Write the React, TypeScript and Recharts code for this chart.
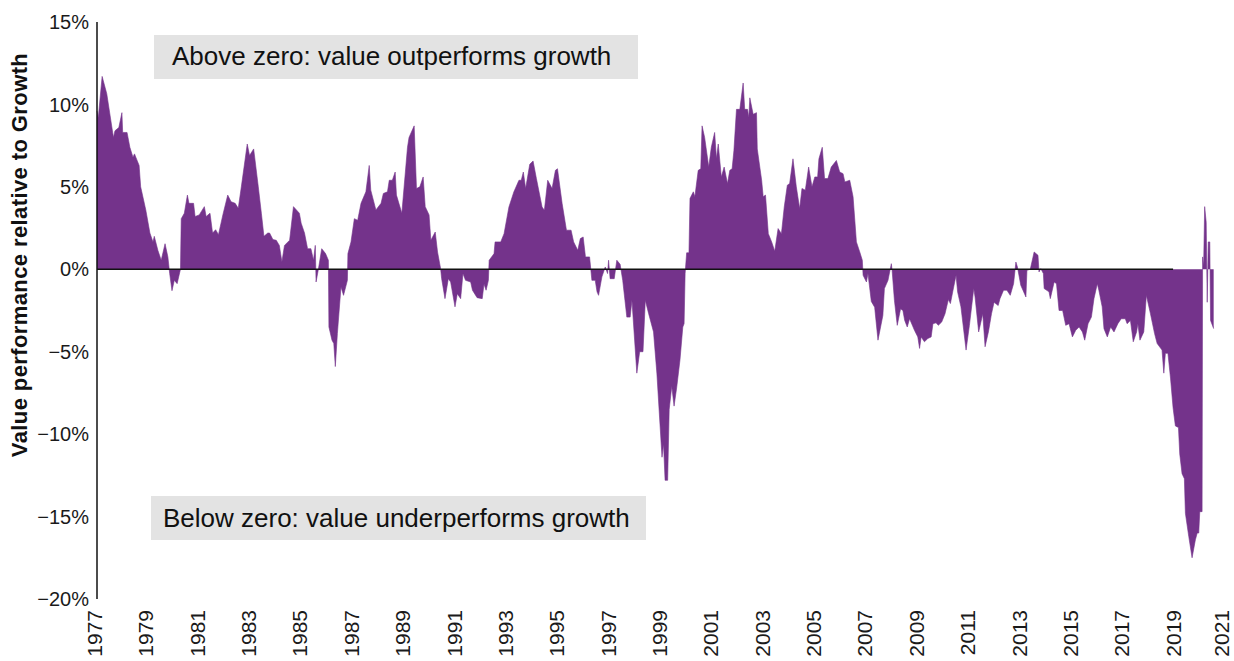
import React from 'react';
import { AreaChart, Area, XAxis, YAxis, ReferenceLine } from 'recharts';

const years: number[] = [
  1977.00, 1977.05, 1977.20, 1977.38, 1977.64, 1977.70, 1977.85, 1977.97, 1978.00, 1978.17,
  1978.28, 1978.40, 1978.46, 1978.64, 1978.70, 1978.90, 1979.06, 1979.18, 1979.23, 1979.37,
  1979.50, 1979.65, 1979.76, 1979.83, 1979.92, 1980.01, 1980.12, 1980.25, 1980.28, 1980.40,
  1980.52, 1980.58, 1980.76, 1980.82, 1980.98, 1981.18, 1981.25, 1981.40, 1981.50, 1981.62,
  1981.73, 1981.90, 1982.09, 1982.22, 1982.38, 1982.50, 1982.62, 1982.85, 1982.94, 1983.10,
  1983.28, 1983.40, 1983.50, 1983.65, 1983.72, 1983.85, 1983.98, 1984.10, 1984.20, 1984.30,
  1984.50, 1984.65, 1984.88, 1984.95, 1985.08, 1985.20, 1985.33, 1985.43, 1985.50, 1985.53,
  1985.62, 1985.75, 1985.90, 1986.01, 1986.03, 1986.15, 1986.22, 1986.28, 1986.36, 1986.50,
  1986.60, 1986.75, 1986.77, 1986.89, 1987.02, 1987.15, 1987.28, 1987.47, 1987.60, 1987.66,
  1987.86, 1988.06, 1988.15, 1988.31, 1988.38, 1988.50, 1988.61, 1988.66, 1988.87, 1989.09,
  1989.15, 1989.35, 1989.44, 1989.57, 1989.70, 1989.78, 1989.93, 1990.00, 1990.17, 1990.26,
  1990.38, 1990.42, 1990.55, 1990.68, 1990.77, 1990.94, 1991.03, 1991.16, 1991.25, 1991.35,
  1991.55, 1991.62, 1991.80, 1992.00, 1992.07, 1992.15, 1992.24, 1992.27, 1992.46, 1992.50,
  1992.72, 1992.85, 1993.04, 1993.23, 1993.43, 1993.52, 1993.60, 1993.69, 1993.85, 1993.98,
  1994.11, 1994.33, 1994.42, 1994.55, 1994.72, 1994.85, 1994.93, 1995.11, 1995.28, 1995.46,
  1995.56, 1995.72, 1995.82, 1995.93, 1996.02, 1996.18, 1996.27, 1996.40, 1996.47, 1996.53,
  1996.66, 1996.79, 1996.88, 1996.92, 1996.98, 1997.14, 1997.24, 1997.37, 1997.47, 1997.63,
  1997.76, 1997.83, 1998.02, 1998.13, 1998.26, 1998.35, 1998.48, 1998.67, 1998.80, 1999.00,
  1999.06, 1999.12, 1999.22, 1999.28, 1999.38, 1999.47, 1999.57, 1999.70, 1999.81, 1999.86,
  1999.90, 1999.96, 2000.05, 2000.09, 2000.22, 2000.28, 2000.41, 2000.51, 2000.56, 2000.66,
  2000.82, 2000.92, 2001.05, 2001.12, 2001.19, 2001.31, 2001.42, 2001.55, 2001.64, 2001.73,
  2001.80, 2001.90, 2002.03, 2002.16, 2002.22, 2002.33, 2002.38, 2002.42, 2002.55, 2002.68,
  2002.71, 2002.88, 2002.94, 2003.03, 2003.14, 2003.27, 2003.39, 2003.52, 2003.65, 2003.76,
  2003.88, 2003.97, 2004.10, 2004.23, 2004.36, 2004.45, 2004.58, 2004.71, 2004.84, 2004.95,
  2005.06, 2005.11, 2005.24, 2005.33, 2005.46, 2005.59, 2005.79, 2005.92, 2006.05, 2006.12,
  2006.31, 2006.44, 2006.57, 2006.70, 2006.80, 2006.83, 2006.96, 2007.02, 2007.15, 2007.28,
  2007.41, 2007.60, 2007.66, 2007.80, 2007.93, 2007.96, 2008.05, 2008.16, 2008.29, 2008.38,
  2008.45, 2008.55, 2008.64, 2008.83, 2008.96, 2009.03, 2009.09, 2009.22, 2009.35, 2009.48,
  2009.55, 2009.67, 2009.76, 2009.89, 2010.02, 2010.15, 2010.23, 2010.32, 2010.45, 2010.51,
  2010.64, 2010.84, 2010.97, 2011.14, 2011.19, 2011.33, 2011.49, 2011.58, 2011.71, 2011.83,
  2011.93, 2012.09, 2012.16, 2012.30, 2012.43, 2012.56, 2012.69, 2012.78, 2012.84, 2012.97,
  2013.17, 2013.21, 2013.34, 2013.49, 2013.64, 2013.68, 2013.75, 2013.85, 2013.88, 2014.07,
  2014.12, 2014.27, 2014.36, 2014.46, 2014.60, 2014.72, 2014.85, 2014.98, 2015.11, 2015.24,
  2015.37, 2015.46, 2015.59, 2015.72, 2015.82, 2015.95, 2016.01, 2016.14, 2016.21, 2016.34,
  2016.47, 2016.60, 2016.75, 2016.88, 2017.04, 2017.11, 2017.24, 2017.35, 2017.48, 2017.53,
  2017.61, 2017.76, 2017.86, 2018.02, 2018.18, 2018.28, 2018.47, 2018.54, 2018.60, 2018.70,
  2018.80, 2018.90, 2018.99, 2019.11, 2019.16, 2019.25, 2019.34, 2019.38, 2019.51, 2019.64,
  2019.77, 2019.84, 2019.90, 2019.94, 2020.03, 2020.05, 2020.09, 2020.13, 2020.19, 2020.23,
  2020.27, 2020.33, 2020.36, 2020.48,
];

const values: number[] = [
  9.6, 9.2, 11.7, 10.65, 8.0, 8.4, 8.6, 9.5, 8.3, 8.3,
  7.4, 6.8, 7.0, 6.3, 5.0, 3.6, 2.2, 1.65, 2.0, 1.15,
  0.55, 1.55, 0.75, -0.26, -1.3, -0.67, -0.87, 0.0, 3.07, 3.4,
  4.5, 4.0, 4.0, 3.2, 3.3, 3.8, 3.2, 3.4, 2.2, 2.4,
  2.1, 3.3, 4.5, 4.1, 4.0, 3.7, 5.0, 7.6, 6.9, 7.3,
  5.0, 3.4, 2.0, 2.2, 2.2, 1.8, 1.76, 1.45, 0.45, 1.45,
  1.76, 3.8, 3.4, 2.8, 2.2, 1.25, 1.25, 0.55, 1.45, -0.77,
  0.0, 1.25, 0.95, 0.55, -3.5, -4.3, -4.5, -5.9, -3.9, -1.07,
  -1.58, -0.67, 0.95, 1.66, 3.07, 2.97, 4.0, 4.7, 6.3, 4.8,
  3.6, 4.0, 4.6, 4.7, 5.4, 5.4, 5.9, 4.5, 3.4, 7.4,
  8.0, 8.7, 4.9, 5.0, 5.6, 3.8, 3.3, 1.76, 2.26, 1.05,
  0.04, -0.57, -1.78, -0.57, -0.77, -2.28, -1.48, -1.78, -0.26, -0.67,
  -0.77, -1.27, -1.72, -1.78, -0.9, -1.27, -0.67, 0.55, 0.95, 1.66,
  1.66, 2.16, 3.78, 4.69, 5.4, 5.4, 5.9, 4.9, 6.37, 6.57,
  5.5, 3.78, 3.58, 5.4, 4.9, 6.0, 6.1, 4.0, 2.37, 2.37,
  1.66, 1.15, 1.86, 1.96, 0.75, 0.75, -0.67, -0.67, -1.37, -1.58,
  -0.46, 0.14, -0.26, 0.55, -0.57, -0.57, 0.55, 0.3, -0.67, -2.9,
  -2.9, -1.88, -6.3, -5.0, -5.0, -1.88, -2.69, -3.8, -6.3, -11.4,
  -10.6, -12.8, -12.8, -8.5, -7.1, -8.3, -7.2, -5.5, -3.5, -3.3,
  -0.26, 1.0, 1.0, 4.3, 4.7, 4.4, 6.0, 6.1, 8.7, 8.0,
  6.2, 7.4, 8.3, 6.7, 7.6, 5.6, 6.2, 5.2, 6.0, 6.1,
  7.2, 9.7, 9.7, 11.3, 9.7, 9.7, 9.2, 10.4, 9.4, 9.5,
  7.3, 5.4, 4.4, 4.5, 2.16, 1.66, 1.1, 2.47, 2.16, 3.78,
  5.1, 5.2, 6.7, 5.0, 3.68, 4.9, 4.8, 6.2, 5.0, 5.6,
  5.6, 6.7, 7.4, 5.5, 5.5, 6.2, 6.6, 5.9, 5.8, 5.3,
  5.4, 4.4, 1.66, 1.05, 0.55, -0.36, -0.77, -0.26, -1.95, -2.3,
  -4.3, -2.8, -1.17, -0.67, 0.34, -0.06, -1.88, -3.4, -2.4, -2.5,
  -3.1, -3.5, -3.0, -3.7, -4.1, -4.8, -4.1, -4.4, -4.2, -4.1,
  -3.3, -3.25, -3.4, -3.2, -2.7, -1.84, -2.08, -1.37, -0.36, -1.37,
  -2.28, -4.9, -3.4, -1.17, -1.68, -3.8, -2.7, -4.7, -3.8, -2.7,
  -2.0, -2.2, -1.78, -1.27, -1.27, -1.58, -0.87, 0.44, 0.14, -0.97,
  -1.68, -0.06, 0.0, 1.05, 0.85, -0.16, 0.04, -0.26, -1.17, -1.37,
  -1.78, -0.77, -0.87, -2.5, -2.5, -3.4, -3.3, -4.1, -3.7, -3.5,
  -3.8, -4.3, -3.3, -2.9, -1.78, -0.87, -1.27, -2.28, -3.6, -4.1,
  -3.5, -3.8, -3.3, -3.0, -3.0, -3.3, -3.1, -4.4, -3.8, -3.3,
  -4.3, -3.8, -1.58, -2.7, -3.9, -4.5, -4.9, -6.3, -5.1, -5.1,
  -6.6, -8.4, -9.5, -9.6, -11.2, -12.4, -12.7, -14.8, -16.2, -17.5,
  -16.4, -16.0, -16.0, -14.7, -14.7, 0.75, 0.2, 3.8, 2.85, -2.0,
  1.66, 1.66, -3.1, -3.6,
];

const xTicks: number[] = [1977, 1979, 1981, 1983, 1985, 1987, 1989, 1991, 1993, 1995, 1997, 1999, 2001, 2003, 2005, 2007, 2009, 2011, 2013, 2015, 2017, 2019, 2021];
const yTicks: number[] = [-20, -15, -10, -5, 0, 5, 10, 15];
const zeroLineEnd = 2018.9;

const yLabel = 'Value performance relative to Growth';
const noteAbove = 'Above zero: value outperforms growth';
const noteBelow = 'Below zero: value underperforms growth';

const data = years.map((t, i) => ({ t, v: values[i] }));

const FONT = '"Liberation Sans", Arial, Helvetica, sans-serif';
const PURPLE = '#74338b';
const CHART_W = 1234;

function XTick(props: any) {
  const { x, y, payload } = props;
  // keep the rotated label's em box inside the picture's right edge
  const shift = Math.min(5, CHART_W - 5 - x);
  return (
    <text
      x={x}
      y={y}
      transform={`rotate(-90, ${x}, ${y})`}
      textAnchor="end"
      dy={shift}
      fontSize={21}
      fill="#1a1a1a"
      fontFamily={FONT}
    >
      {payload.value}
    </text>
  );
}

const fmtPct = (v: number) => (v < 0 ? `\u2212${Math.abs(v)}%` : `${v}%`);

export default function App() {
  return (
    <div style={{ position: 'absolute', left: 0, top: 0, width: CHART_W, height: 661, background: '#fff' }}>
      <AreaChart width={CHART_W} height={661} data={data} margin={{ top: 22, right: 7, bottom: 0, left: 0 }}>
        <XAxis
          dataKey="t"
          type="number"
          domain={[1977, 2021]}
          ticks={xTicks}
          axisLine={false}
          tickLine={false}
          tickMargin={5}
          height={62}
          interval={0}
          tick={<XTick />}
        />
        <YAxis
          type="number"
          domain={[-20, 15]}
          ticks={yTicks}
          width={97}
          tickLine={false}
          axisLine={{ stroke: '#111', strokeWidth: 1.5 }}
          tickFormatter={fmtPct}
          tick={{ fontSize: 20, fill: '#1a1a1a', fontFamily: FONT }}
          interval={0}
        />
        <Area
          type="linear"
          dataKey="v"
          baseValue={0}
          fill={PURPLE}
          fillOpacity={1}
          stroke={PURPLE}
          strokeWidth={0.6}
          isAnimationActive={false}
          dot={false}
          activeDot={false}
        />
        <ReferenceLine
          segment={[{ x: 1977, y: 0 }, { x: zeroLineEnd, y: 0 }]}
          stroke="#111"
          strokeWidth={1.5}
        />
      </AreaChart>
      <svg
        width={CHART_W}
        height={661}
        style={{ position: 'absolute', left: 0, top: 0, pointerEvents: 'none' }}
      >
        <text
          x={27}
          y={255}
          transform="rotate(-90, 27, 255)"
          textAnchor="middle"
          fontSize={22}
          fontWeight="bold"
          letterSpacing={0.4}
          fill="#111"
          fontFamily={FONT}
        >
          {yLabel}
        </text>
        <rect x={154} y={35} width={484} height={44} fill="#e3e3e3" />
        <text x={172} y={65} fontSize={26} fill="#111" fontFamily={FONT}>
          {noteAbove}
        </text>
        <rect x={151} y={496} width={495} height={44} fill="#e3e3e3" />
        <text x={163} y={527} fontSize={26} fill="#111" fontFamily={FONT}>
          {noteBelow}
        </text>
      </svg>
    </div>
  );
}
